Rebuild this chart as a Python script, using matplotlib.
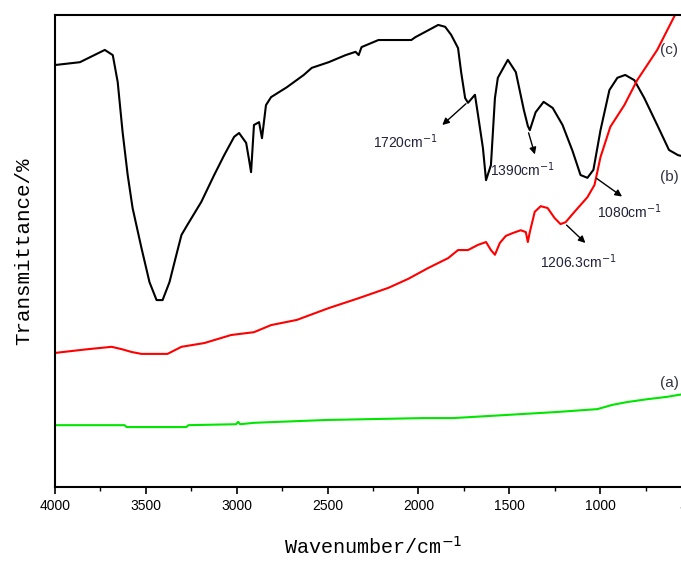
import numpy as np
import matplotlib
matplotlib.use('Agg')
import matplotlib.pyplot as plt
from matplotlib.ticker import MultipleLocator

# Спектр (b) - чёрная кривая
wn_b = [4000, 3863, 3726, 3682, 3655, 3628, 3600, 3573, 3524, 3480, 3441, 3408, 3370,
        3332, 3304, 3272, 3195, 3124, 3069, 3014, 2987, 2948, 2932, 2921, 2905, 2877,
        2861, 2839, 2811, 2724, 2631, 2587, 2494, 2401, 2346, 2329, 2313, 2220, 2039,
        2017, 1891, 1853, 1820, 1782, 1765, 1743, 1727, 1689, 1672, 1645, 1628, 1601,
        1579, 1563, 1508, 1464, 1420, 1398, 1387, 1355, 1311, 1261, 1207, 1152, 1108,
        1070, 1037, 998, 949, 905, 862, 812, 757, 686, 621, 571, 500]
t_b = [89.4, 90.0, 92.6, 91.5, 85.8, 75.2, 66.1, 59.1, 50.6, 43.4, 39.6, 39.6, 43.4,
       49.2, 53.4, 55.5, 60.4, 66.1, 70.3, 74.2, 75.0, 72.9, 69.3, 66.7, 76.7, 77.3,
       73.9, 80.9, 82.6, 84.7, 87.3, 88.8, 90.0, 91.5, 92.2, 91.5, 93.2, 94.7, 94.7,
       95.3, 97.9, 97.5, 95.8, 93.0, 87.9, 82.4, 81.4, 83.1, 78.8, 71.8, 65.0, 68.2,
       82.4, 86.7, 90.5, 87.9, 79.9, 76.5, 75.6, 79.4, 81.6, 80.3, 76.7, 71.2, 66.1,
       65.5, 67.2, 75.6, 84.1, 86.7, 87.3, 86.2, 82.4, 76.7, 71.4, 70.3, 69.7]

# Спектр (c) - красная кривая
wn_c = [4000, 3956, 3819, 3688, 3633, 3578, 3524, 3381, 3304, 3178, 3031, 2905, 2811,
        2669, 2494, 2329, 2165, 2056, 1946, 1836, 1782, 1727, 1672, 1628, 1601, 1579,
        1552, 1519, 1481, 1437, 1409, 1398, 1387, 1360, 1327, 1289, 1251, 1218, 1190,
        1141, 1070, 1031, 998, 944, 867, 796, 686, 588, 522, 500]
t_c = [28.4, 28.6, 29.2, 29.7, 29.2, 28.6, 28.2, 28.2, 29.7, 30.5, 32.2, 32.8, 34.3,
       35.4, 37.9, 40.0, 42.2, 44.1, 46.4, 48.5, 50.2, 50.2, 51.3, 51.9, 50.2, 49.2,
       51.7, 53.2, 53.8, 54.4, 54.0, 51.9, 54.0, 58.3, 59.5, 59.1, 57.0, 55.7, 56.1,
       58.3, 61.4, 64.0, 69.9, 76.3, 80.9, 86.2, 92.6, 100.0, 104.2, 107.0]

# Спектр (a) - зелёная кривая
wn_a = [4000, 3617, 3606, 3277, 3266, 3003, 2992, 2981, 2905, 2505, 1973, 1809, 1234,
        1015, 933, 851, 741, 632, 571, 500]
t_a = [13.1, 13.1, 12.7, 12.7, 13.1, 13.3, 13.8, 13.3, 13.6, 14.2, 14.6, 14.6, 15.9,
       16.5, 17.4, 18.0, 18.6, 19.1, 19.5, 19.9]

# Подписи пиков: текст, точка стрелки, конец стрелки, позиция текста
peak_labels = ['1720cm$^{-1}$', '1390cm$^{-1}$', '1080cm$^{-1}$', '1206.3cm$^{-1}$']
peak_from = [(1727, 81.6), (1398, 75.6), (1031, 65.7), (1196, 55.9)]
peak_to = [(1880, 76.3), (1355, 69.9), (867, 61.2), (1070, 51.3)]
peak_text = [(2250, 73.1), (1607, 67.2), (1015, 58.3), (1333, 47.7)]

curve_names = ['(a)', '(b)', '(c)']
curve_label_y = [22.0, 65.7, 92.6]

fig = plt.figure(figsize=(6.81, 5.63), dpi=100)
# правый край оси (500 см-1) уходит за границу рисунка, как в оригинале
ax = fig.add_axes([55 / 681, 1 - 487 / 563, 636 / 681, 472 / 563])

ax.plot(wn_b, t_b, color='black', linewidth=1.5)
ax.plot(wn_c, t_c, color='#ff0000', linewidth=1.5)
ax.plot(wn_a, t_a, color='#00e600', linewidth=1.5)

ax.set_xlim(4000, 500)
ax.set_ylim(0, 100)

for lab, p0, p1, pt in zip(peak_labels, peak_from, peak_to, peak_text):
    ax.annotate('', xy=p1, xytext=p0,
                arrowprops=dict(arrowstyle='-|>', color='black', lw=1.0,
                                mutation_scale=10))
    ax.text(pt[0], pt[1], lab, fontsize=10, color='#22223a',
            ha='left', va='center', family='Liberation Sans')

for name, yv in zip(curve_names, curve_label_y):
    ax.text(670, yv, name, fontsize=11, color='#333344', ha='left', va='center',
            family='Liberation Sans')

ax.xaxis.set_major_locator(MultipleLocator(500))
ax.xaxis.set_minor_locator(MultipleLocator(250))
ax.tick_params(axis='x', which='major', direction='out', length=5, width=1.2,
               labelsize=10, pad=4)
ax.tick_params(axis='x', which='minor', direction='out', length=3, width=1.0)
ax.set_yticks([])
for lbl in ax.get_xticklabels():
    lbl.set_family('Liberation Sans')

for sp in ax.spines.values():
    sp.set_linewidth(1.5)

ax.set_xlabel('Wavenumber/cm$^{-1}$', fontsize=14.5, family='Liberation Mono',
              labelpad=16)
ax.set_ylabel('Transmittance/%', fontsize=15, family='Liberation Mono', labelpad=16)

fig.savefig('out.png', dpi=100)
